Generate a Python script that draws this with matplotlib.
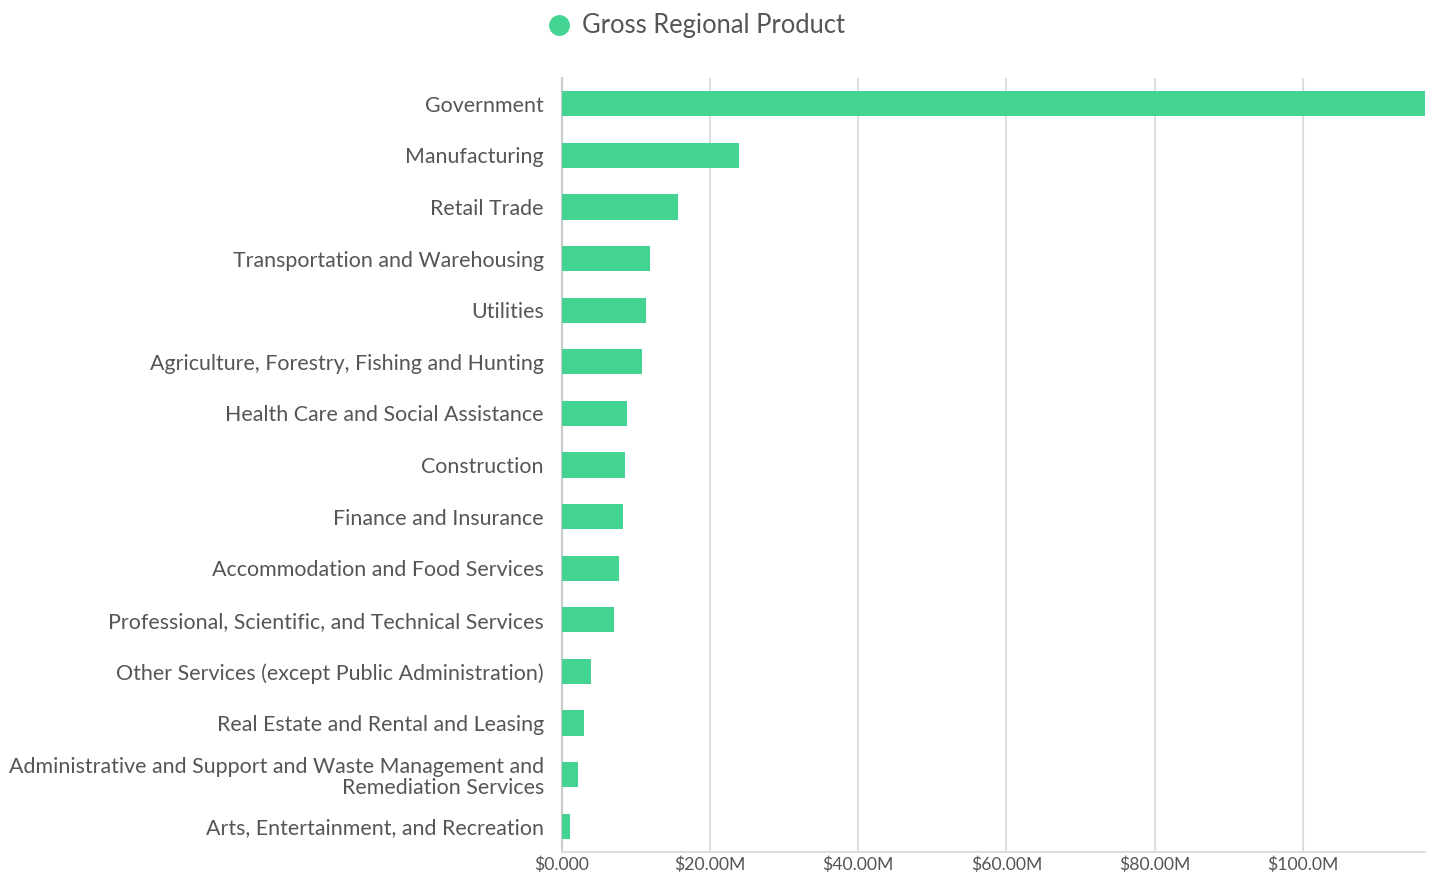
import matplotlib.pyplot as plt
from matplotlib.lines import Line2D
from matplotlib.ticker import FixedLocator

plt.rcParams['font.family'] = ['Lato', 'DejaVu Sans']

# Data (millions of dollars)
industries = [
    "Government",
    "Manufacturing",
    "Retail Trade",
    "Transportation and Warehousing",
    "Utilities",
    "Agriculture, Forestry, Fishing and Hunting",
    "Health Care and Social Assistance",
    "Construction",
    "Finance and Insurance",
    "Accommodation and Food Services",
    "Professional, Scientific, and Technical Services",
    "Other Services (except Public Administration)",
    "Real Estate and Rental and Leasing",
    "Administrative and Support and Waste Management and\nRemediation Services",
    "Arts, Entertainment, and Recreation",
]
gross_regional_product = [116.5, 23.9, 15.7, 11.9, 11.4, 10.8, 8.8, 8.55, 8.3, 7.7, 7.0, 3.9, 3.0, 2.1, 1.05]
tick_values = [0, 20, 40, 60, 80, 100]
tick_labels = ["$0.000", "$20.00M", "$40.00M", "$60.00M", "$80.00M", "$100.0M"]

bar_color = "#44d492"
text_color = "#555555"
grid_color = "#dddddd"

fig = plt.figure(figsize=(14.39, 8.8), dpi=100)
ax = fig.add_axes([562 / 1439, 1 - 852 / 880, (1425 - 562) / 1439, (852 - 78) / 880])

pos = list(range(len(industries)))
ax.barh(pos, gross_regional_product, height=0.49, color=bar_color, zorder=3)

ax.set_ylim(len(industries) - 0.5, -0.5)
ax.set_xlim(0, max(gross_regional_product))
ax.set_yticks(pos)
ax.set_yticklabels(industries, fontsize=15.4, color=text_color, linespacing=1.1)
ax.xaxis.set_major_locator(FixedLocator(tick_values))
ax.set_xticklabels(tick_labels, fontsize=12.7, color=text_color)
ax.tick_params(axis='both', length=0)
ax.tick_params(axis='y', pad=13)
ax.tick_params(axis='x', pad=3)

ax.grid(axis='x', color=grid_color, linewidth=1.5, zorder=0)
for side in ['top', 'right']:
    ax.spines[side].set_visible(False)
ax.spines['left'].set_color("#cccccc")
ax.spines['left'].set_linewidth(1.5)
ax.spines['bottom'].set_color(grid_color)
ax.spines['bottom'].set_linewidth(1.5)

handle = Line2D([], [], marker='o', linestyle='', markersize=14, color=bar_color)
fig.legend([handle], ["Gross Regional Product"], loc='center', bbox_to_anchor=(0.4795, 1 - 26 / 880),
           frameon=False, fontsize=18.4, labelcolor=text_color, handletextpad=0.0, handlelength=1.8)

plt.savefig('out.png')
